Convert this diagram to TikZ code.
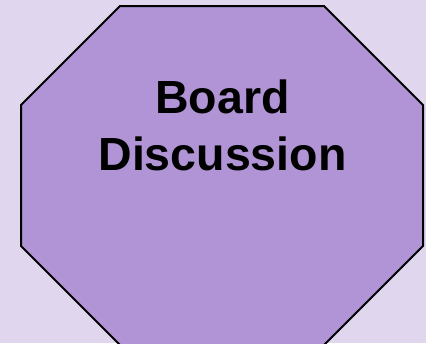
\documentclass[tikz,border=0pt]{standalone}
\usepackage{fontspec}
\setmainfont{Liberation Sans}
\usetikzlibrary{positioning}
\definecolor{boardbg}{RGB}{224,215,238}
\definecolor{boardfill}{RGB}{176,148,213}

\begin{document}
\begin{tikzpicture}[
  x=1pt, y=-1pt,
  octa/.style={draw=black, line width=2pt, fill=boardfill, line join=miter},
  title/.style={font=\bfseries\fontsize{46.5}{57}\selectfont, align=center,
    inner sep=0pt, text=black}
]
  \useasboundingbox (0,0) rectangle (426,343);
  \clip (0,0) rectangle (426,343);
  \fill[boardbg] (0,0) rectangle (426,343);

  % the octagon
  \draw[octa] (120,6) -- (324,6) -- (423,105) -- (423,246)
    -- (324,345) -- (120,345) -- (21,246) -- (21,105) -- cycle;

  \node[title] (board) at (222.5,125) {Board\\Discussion};
\end{tikzpicture}
\end{document}
